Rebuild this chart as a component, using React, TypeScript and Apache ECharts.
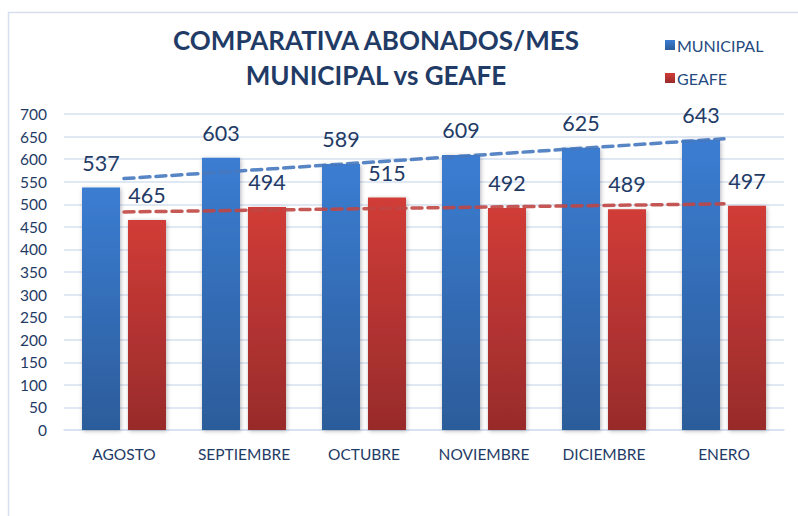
import React, { useEffect, useRef } from "react";
import * as echarts from "echarts";

const categories = ["AGOSTO", "SEPTIEMBRE", "OCTUBRE", "NOVIEMBRE", "DICIEMBRE", "ENERO"];
const municipal = [537, 603, 589, 609, 625, 643];
const geafe = [465, 494, 515, 492, 489, 497];
// trend line end points (first and last category)
const municipalTrend = [557, 645];
const geafeTrend = [483, 501];
const yTicks = { min: 0, max: 700, interval: 50 };

const FONT = "Lato, 'DejaVu Sans', sans-serif";
const NAVY = "#1F3B66";

function trendData(ends: number[]) {
  return categories.map((_, i) =>
    i === 0 ? ends[0] : i === categories.length - 1 ? ends[1] : null
  );
}

export default function App() {
  const ref = useRef<HTMLDivElement>(null);
  useEffect(() => {
    if (!ref.current) return;
    const chart = echarts.init(ref.current, undefined, { renderer: "svg" });
    const barGrad = (top: string, bottom: string) =>
      new echarts.graphic.LinearGradient(0, 0, 0, 1, [
        { offset: 0, color: top },
        { offset: 1, color: bottom },
      ]);
    const label = {
      show: true,
      position: "top",
      distance: 14,
      fontSize: 21.5,
      fontFamily: FONT,
      color: NAVY,
    };
    const shadow = {
      shadowColor: "rgba(0,0,0,0.28)",
      shadowBlur: 4,
      shadowOffsetX: 1,
      shadowOffsetY: 1,
    };
    const trend = (data: (number | null)[], color: string) => ({
      type: "line",
      data: trendData(data as number[]),
      connectNulls: true,
      symbol: "none",
      silent: true,
      z: 5,
      lineStyle: { color, width: 3.5, type: [10, 6], cap: "round" },
    });
    chart.setOption({
      animation: false,
      backgroundColor: "#ffffff",
      textStyle: { fontFamily: FONT },
      graphic: [
        {
          type: "rect",
          shape: { x: 8.5, y: 12.5, width: 800, height: 520 },
          style: { fill: "none", stroke: "#D5DFEE", lineWidth: 1.5 },
          silent: true,
        },
        {
          type: "text",
          x: 376,
          y: 40,
          style: {
            text: "COMPARATIVA ABONADOS/MES",
            fontSize: 26,
            fontWeight: "bold",
            fontFamily: FONT,
            fill: NAVY,
            textAlign: "center",
            textVerticalAlign: "middle",
          },
        },
        {
          type: "text",
          x: 376,
          y: 75,
          style: {
            text: "MUNICIPAL vs GEAFE",
            fontSize: 26,
            fontWeight: "bold",
            fontFamily: FONT,
            fill: NAVY,
            textAlign: "center",
            textVerticalAlign: "middle",
          },
        },
      ],
      legend: {
        orient: "vertical",
        left: 660,
        top: 32,
        itemWidth: 10,
        itemHeight: 10,
        itemGap: 17,
        icon: "rect",
        data: ["MUNICIPAL", "GEAFE"],
        textStyle: { fontSize: 16, color: "#244A80", fontFamily: FONT, padding: [0, 0, 0, -3] },
      },
      grid: { left: 64, right: 14, top: 114, bottom: 86 },
      xAxis: {
        type: "category",
        data: categories,
        axisTick: { show: false },
        axisLine: { lineStyle: { color: "#D6E1F1", width: 1.5 } },
        axisLabel: { fontSize: 15.5, color: NAVY, margin: 16, fontFamily: FONT },
      },
      yAxis: {
        type: "value",
        min: yTicks.min,
        max: yTicks.max,
        interval: yTicks.interval,
        axisLine: { show: false },
        axisTick: { show: false },
        splitLine: { lineStyle: { color: "#D6E1F1", width: 1.5 } },
        axisLabel: { fontSize: 15.5, color: NAVY, margin: 17, fontFamily: FONT },
      },
      series: [
        {
          name: "MUNICIPAL",
          type: "bar",
          data: municipal,
          barWidth: 38,
          barGap: "21%",
          itemStyle: { color: barGrad("#3B7DD2", "#2C5C9A"), ...shadow },
          label,
        },
        {
          name: "GEAFE",
          type: "bar",
          data: geafe,
          barWidth: 38,
          itemStyle: { color: barGrad("#D13C37", "#982B2B"), ...shadow },
          label,
        },
        { name: "municipalTrend", ...trend(municipalTrend, "rgba(70,120,190,0.9)") },
        { name: "geafeTrend", ...trend(geafeTrend, "rgba(192,70,68,0.9)") },
      ],
    });
    return () => chart.dispose();
  }, []);
  return (
    <div
      ref={ref}
      style={{ position: "absolute", left: 0, top: 0, width: 798, height: 516 }}
    />
  );
}
